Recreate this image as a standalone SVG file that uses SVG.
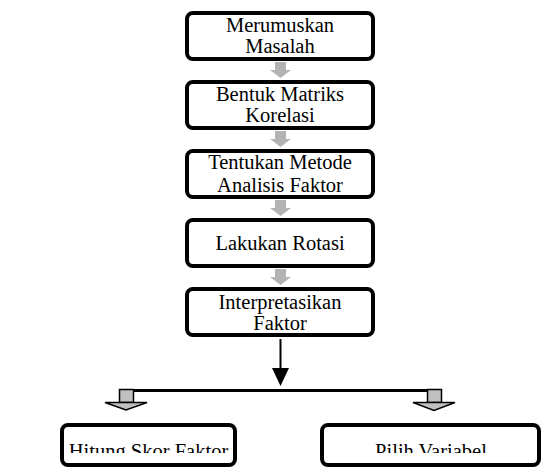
<svg xmlns="http://www.w3.org/2000/svg" width="543" height="468" viewBox="0 0 543 468">
<style>
.box{fill:#fff;stroke:#000;stroke-width:4}
.t{font-family:'Liberation Serif',serif;font-size:20.5px;fill:#000;text-anchor:middle}
.g{fill:#b3b3b3}
.ga{fill:#c0c0c0;stroke:#000;stroke-width:1.5;stroke-linejoin:miter}
</style>
<defs>
<clipPath id="clipB"><rect x="0" y="420" width="543" height="33"/></clipPath>
</defs>
<rect width="543" height="468" fill="#fff"/>
<g id="connectors">
<g class="g">
<rect x="275" y="62" width="11" height="8"/><polygon points="270,70 291,70 280.5,78"/>
<rect x="275" y="131" width="11" height="8"/><polygon points="270,139 291,139 280.5,147"/>
<rect x="275" y="200" width="11" height="8"/><polygon points="270,208 291,208 280.5,216"/>
<rect x="275" y="269" width="11" height="8"/><polygon points="270,277 291,277 280.5,285"/>
</g>
<line x1="280.5" y1="339" x2="280.5" y2="370" stroke="#000" stroke-width="2"/>
<polygon points="272,368 289,368 280.5,386" fill="#000"/>
<line x1="133" y1="390.5" x2="428" y2="390.5" stroke="#000" stroke-width="3"/>
<rect class="ga" x="119.5" y="389.5" width="14" height="13"/>
<polygon class="ga" points="105,402.5 147,402.5 126,410"/>
<rect class="ga" x="427.5" y="389.5" width="14" height="13"/>
<polygon class="ga" points="413,402.5 455,402.5 434,410.5"/>
</g>
<g id="n1"><rect class="box" x="187" y="13" width="186" height="46" rx="6"/><text class="t" x="280" y="32">Merumuskan</text><text class="t" x="280" y="53">Masalah</text></g>
<g id="n2"><rect class="box" x="187" y="82" width="186" height="46" rx="6"/><text class="t" x="280" y="101">Bentuk Matriks</text><text class="t" x="280" y="122">Korelasi</text></g>
<g id="n3"><rect class="box" x="187" y="151" width="186" height="46" rx="6"/><text class="t" x="280" y="169">Tentukan Metode</text><text class="t" x="280" y="192">Analisis Faktor</text></g>
<g id="n4"><rect class="box" x="187" y="220" width="186" height="46" rx="6"/><text class="t" x="280" y="250">Lakukan Rotasi</text></g>
<g id="n5"><rect class="box" x="187" y="289" width="186" height="46" rx="6"/><text class="t" x="280" y="309">Interpretasikan</text><text class="t" x="280" y="330">Faktor</text></g>
<g id="n6"><rect class="box" x="62" y="425" width="173" height="40" rx="6"/><text class="t" x="148.5" y="458" clip-path="url(#clipB)">Hitung Skor Faktor</text></g>
<g id="n7"><rect class="box" x="322" y="425" width="217" height="40" rx="6"/><text class="t" x="431" y="458" clip-path="url(#clipB)">Pilih Variabel</text></g>
</svg>
